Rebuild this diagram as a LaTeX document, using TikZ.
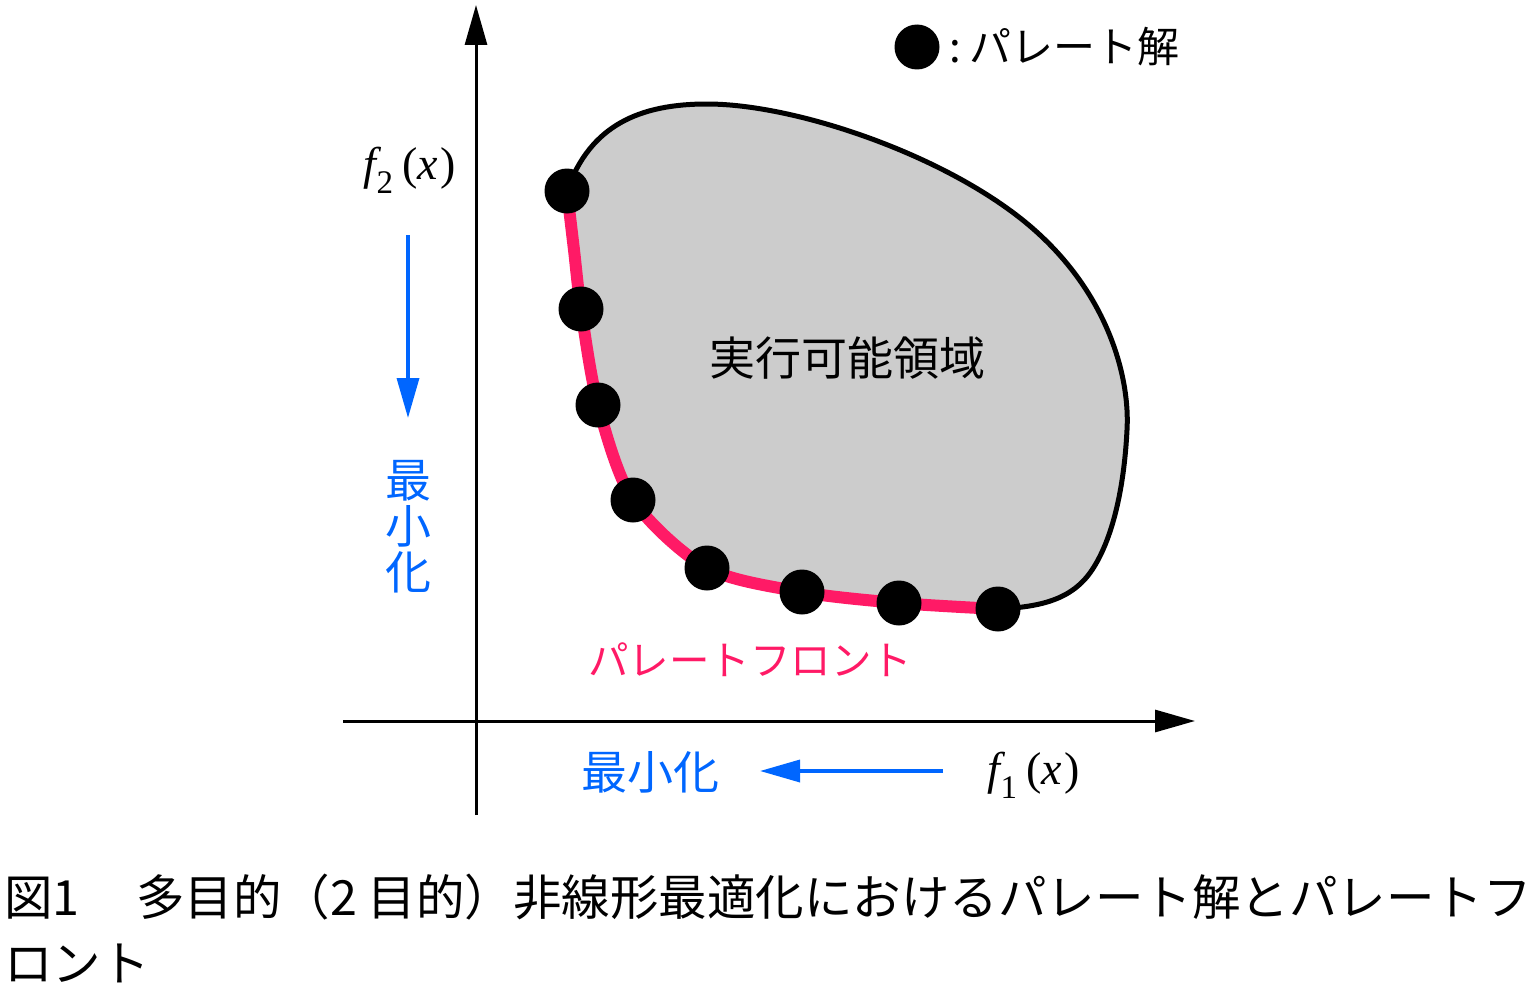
\documentclass[tikz,border=0pt]{standalone}
\usepackage{fontspec}
\newfontfamily\jp{Noto Sans CJK JP}
\newfontfamily\tms{Liberation Serif}
\usetikzlibrary{arrows.meta}
\definecolor{pblue}{RGB}{0,102,255}
\definecolor{ppink}{RGB}{255,26,102}
\definecolor{regiongray}{RGB}{204,204,204}
\begin{document}
\begin{tikzpicture}[x=1pt,y=-1pt,
  axis/.style={line width=3pt,-{Triangle[length=40pt,width=22pt]}},
  minarrow/.style={pblue,line width=3.5pt,-{Triangle[length=40pt,width=22pt]}},
  paretodot/.style={circle,fill=black,minimum size=45pt,inner sep=0pt},
  jplabel/.style={font=\jp\fontsize{46}{46}\selectfont,inner sep=0pt},
  caption/.style={font=\jp\fontsize{48.5}{48.5}\selectfont,inner sep=0pt,anchor=west},
  flabel/.style={font=\tms\fontsize{46}{46}\selectfont,inner sep=0pt},
  outline/.style={line width=5pt},
  front/.style={ppink,line width=12pt}
]
\useasboundingbox (0,0) rectangle (1540,990);

% feasible region
\fill[regiongray] (567,191) .. controls (590,125) and (640,104) .. (707,104)
  .. controls (800,104) and (960,160) .. (1040,235)
  .. controls (1110,300) and (1130,380) .. (1127,430)
  .. controls (1124,490) and (1110,540) .. (1090,570)
  .. controls (1070,600) and (1040,607) .. (998,609)
  -- plot[smooth] coordinates {(998,609) (899,603) (802,592) (707,568) (633,500) (598,405) (581,309) (574,250) (567,191)} -- cycle;

% pareto front
\draw[front] plot[smooth] coordinates {(567,191) (574,250) (581,309) (598,405) (633,500) (707,568) (802,592) (899,603) (998,609)};

% outline
\draw[outline] (567,191) .. controls (590,125) and (640,104) .. (707,104)
  .. controls (800,104) and (960,160) .. (1040,235)
  .. controls (1110,300) and (1130,380) .. (1127,430)
  .. controls (1124,490) and (1112,540) .. (1092,570)
  .. controls (1072,600) and (1040,607) .. (998,609);

% pareto solutions
\node[paretodot] (p1) at (567,191) {};
\node[paretodot] (p2) at (581,309) {};
\node[paretodot] (p3) at (598,405) {};
\node[paretodot] (p4) at (633,500) {};
\node[paretodot] (p5) at (707,568) {};
\node[paretodot] (p6) at (802,592) {};
\node[paretodot] (p7) at (899,603) {};
\node[paretodot] (p8) at (998,609) {};

% axes
\coordinate (yb) at (476,815);
\coordinate (yt) at (476,5);
\coordinate (xl) at (343,721);
\coordinate (xr) at (1195,721);
\draw[axis] (yb) -- (yt);
\draw[axis] (xl) -- (xr);

% axis labels
\node[flabel] (f2) at (410,170) {\itshape f\raisebox{-0.3em}{\fontsize{33}{33}\selectfont\upshape 2}\upshape\hspace{0.2em}(\itshape x\upshape\hspace{0.06em})};
\node[flabel] (f1) at (1034,775) {\itshape f\raisebox{-0.3em}{\fontsize{33}{33}\selectfont\upshape 1}\upshape\hspace{0.2em}(\itshape x\upshape\hspace{0.06em})};

% minimisation arrows
\coordinate (va) at (408,235);
\coordinate (vb) at (408,418);
\draw[minarrow] (va) -- (vb);
\node[jplabel,text=pblue,align=center] (vmin) at (408,527) {最\\小\\化};
\coordinate (ha) at (943,771);
\coordinate (hb) at (760,771);
\draw[minarrow] (ha) -- (hb);
\node[jplabel,text=pblue] (hmin) at (650,772) {最小化};

% region and front labels
\node[jplabel] (region) at (847,358) {実行可能領域};
\node[jplabel,text=ppink,font=\jp\fontsize{40.5}{40.5}\selectfont] (frontlbl) at (750,660) {パレートフロント};

% legend
\node[paretodot] (ldot) at (917,47) {};
\node[jplabel,anchor=east,font=\jp\fontsize{42}{42}\selectfont] (ltext) at (1180,47) {:\hspace{9pt}パレート解};

% caption
\node[caption] (cap1) at (4,897) {図1\hspace{8pt}　多目的（2 目的）非線形最適化におけるパレート解とパレートフ};
\node[caption] (cap2) at (4,963) {ロント};
\end{tikzpicture}
\end{document}
